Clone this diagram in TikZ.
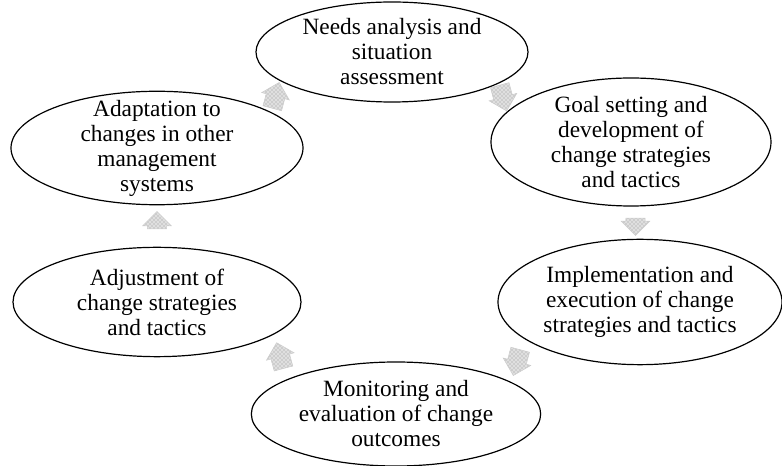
\documentclass[tikz,border=0pt]{standalone}
\usepackage{fontspec}
\setmainfont{Liberation Serif}
\usetikzlibrary{calc,shapes.geometric,shapes.arrows,patterns}

\begin{document}
\begin{tikzpicture}[x=0.75pt, y=-0.75pt,
    every node/.style={font=\fontsize{17.5}{18.75}\selectfont},
    stage/.style={ellipse, draw, line width=0.9pt, align=center, inner xsep=0pt, inner ysep=-6pt},
    cyclearrow/.style={single arrow, draw=gray!40, preaction={fill=gray!25}, pattern=crosshatch dots,
      pattern color=gray!85, minimum height=20pt, inner xsep=0pt, inner ysep=7pt,
      single arrow head extend=3.5pt, font=\tiny}]
  \useasboundingbox (0,0) rectangle (782,466);
  \node [stage, minimum width=204pt, minimum height=75pt] (needs) at (392,52) {Needs analysis and\\situation\\assessment};
  \node [stage, minimum width=210pt, minimum height=96pt] (goal) at (631,142) {Goal setting and\\development of\\change strategies\\and tactics};
  \node [stage, minimum width=213pt, minimum height=94pt] (impl) at (640,302) {Implementation and\\execution of change\\strategies and tactics};
  \node [stage, minimum width=217pt, minimum height=78pt] (monitor) at (396,414) {Monitoring and\\evaluation of change\\outcomes};
  \node [stage, minimum width=216pt, minimum height=82pt] (adjust) at (157,302) {Adjustment of\\change strategies\\and tactics};
  \node [stage, minimum width=219pt, minimum height=85pt] (adapt) at (157,148) {Adaptation to\\changes in other\\management\\systems};

  % cycle arrows:
  \node [cyclearrow, rotate=75] (a1) at ($(adapt)!0.5!(needs)$) {};
  \node [cyclearrow, rotate=-75] (a2) at ($(needs)!0.46!(goal)$) {};
  \node [cyclearrow, rotate=-90, minimum height=13pt] (a3) at ($(goal)!0.5!(impl)$) {};
  \node [cyclearrow, rotate=-105] (a4) at ($(impl)!0.5!(monitor)$) {};
  \node [cyclearrow, rotate=105] (a5) at ($(monitor)!0.48!(adjust)$) {};
  \node [cyclearrow, rotate=90, minimum height=13pt] (a6) at ($(adjust)!0.5!(adapt)$) {};
\end{tikzpicture}
\end{document}
